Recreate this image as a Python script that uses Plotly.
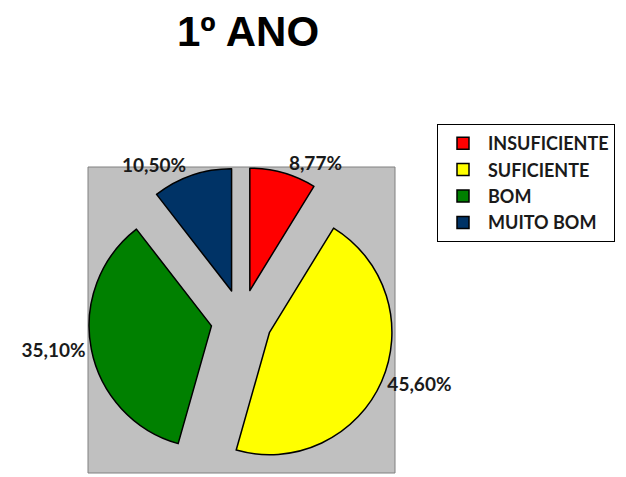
import plotly.graph_objects as go

# data
categorias = ["INSUFICIENTE", "SUFICIENTE", "BOM", "MUITO BOM"]
valores = [8.77, 45.60, 35.10, 10.50]
cores = ["#FF0000", "#FFFF00", "#008000", "#003366"]

# page body adds an 8px margin, so the figure is 8px smaller than the window
W, H = 618, 469
# plot area (grey box) in pixels, relative to the figure
px0, px1 = 80, 387
py0, py1 = 159, 465
dom_x = [px0 / W, px1 / W]
dom_y = [1 - py1 / H, 1 - py0 / H]

fig = go.Figure()
fig.add_trace(go.Pie(
    labels=categorias,
    values=valores,
    sort=False,
    direction="clockwise",
    rotation=0,
    pull=[0.25] * len(valores),
    marker=dict(colors=cores, line=dict(color="black", width=1.5)),
    textposition="outside",
    texttemplate="%{value:.2f}%",
    textfont=dict(family="Lato", size=19, color="#1a1a1a", weight="bold"),
    hoverinfo="label+value",
    automargin=False,
    domain=dict(x=dom_x, y=dom_y),
))

# grey plot area
fig.add_shape(type="rect", xref="paper", yref="paper",
              x0=dom_x[0], x1=dom_x[1], y0=dom_y[0], y1=dom_y[1],
              fillcolor="#C0C0C0", line=dict(color="#808080", width=1),
              layer="below")

fig.update_layout(
    width=W, height=H,
    margin=dict(l=0, r=0, t=0, b=0, autoexpand=False),
    paper_bgcolor="white",
    plot_bgcolor="white",
    separators=",.",
    title=dict(text="1º ANO", x=240 / W, xanchor="center",
               y=1 - 23 / H, yanchor="middle",
               font=dict(family="Liberation Sans", size=42, color="black", weight="bold")),
    legend=dict(x=429 / W, y=1 - 116 / H, xanchor="left", yanchor="top",
                xref="container", yref="container",
                bordercolor="black", borderwidth=1, bgcolor="white",
                font=dict(family="Lato", size=18, color="#1a1a1a", weight="bold"),
                itemwidth=40, tracegroupgap=0),
)

fig.write_html("out.html")
